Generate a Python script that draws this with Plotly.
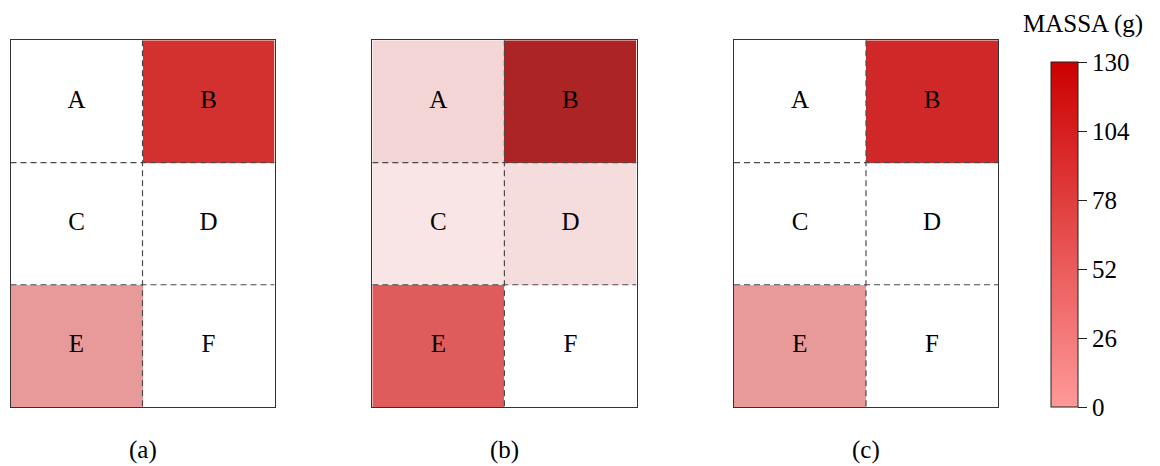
import plotly.graph_objects as go

# ---------------- data ----------------
cells = ["A", "B", "C", "D", "E", "F"]          # laid out 2 columns x 3 rows
panels = ["(a)", "(b)", "(c)"]
# mass (g) per cell; None = empty (white) cell
mass_a = [None, 95, None, None, 45, None]
mass_b = [16, 125, 8, 12, 70, None]
mass_c = [None, 100, None, None, 45, None]
cbar_ticks = [0, 26, 52, 78, 104, 130]
cbar_title = "MASSA (g)"

# ---------------- styles ----------------
FONT = "Liberation Serif, DejaVu Serif, serif"
FS = 25
cell_scale = [
    [0.0, "#fdf3f3"], [8 / 130, "#f9e5e5"], [12 / 130, "#f5dddd"], [16 / 130, "#f3d5d5"],
    [45 / 130, "#e89a9a"], [70 / 130, "#df5c5c"], [95 / 130, "#d33030"],
    [100 / 130, "#d02828"], [125 / 130, "#ad2424"], [1.0, "#a82020"],
]
bar_scale = [[0.0, "#ff9999"], [1.0, "#cc0000"]]

W, H = 1160, 466
OFF = 8  # page body margin in the browser
x_left = [10.5 - OFF, 372.3 - OFF, 734.0 - OFF]
x_right = [274.5 - OFF, 636.5 - OFF, 998.0 - OFF]
y_top, y_bot = 40.3 - OFF, 407.0 - OFF

fig = go.Figure()

def grid(vals):
    return [vals[0:2], vals[2:4], vals[4:6]]

col_idx = [i % 2 for i in range(6)]
row_idx = [i // 2 for i in range(6)]

for k, vals in enumerate([mass_a, mass_b, mass_c]):
    xa = "x" if k == 0 else f"x{k+1}"
    ya = "y" if k == 0 else f"y{k+1}"
    fig.add_trace(go.Heatmap(
        z=grid(vals), x=[0, 1], y=[0, 1, 2], coloraxis="coloraxis",
        xaxis=xa, yaxis=ya, hoverongaps=False, xgap=0, ygap=0,
    ))
    fig.add_trace(go.Scatter(
        x=col_idx, y=row_idx, text=cells, mode="text",
        textfont=dict(family=FONT, size=FS, color="black"),
        xaxis=xa, yaxis=ya, showlegend=False, hoverinfo="skip",
    ))

# dummy trace carrying the displayed colour bar
fig.add_trace(go.Scatter(
    x=[0, 0], y=[0, 0], mode="markers", xaxis="x", yaxis="y",
    marker=dict(color=[cbar_ticks[0], cbar_ticks[-1]], coloraxis="coloraxis2", size=0.001, opacity=0),
    showlegend=False, hoverinfo="skip",
))

cb_top, cb_bot = 62 - OFF, 407.3 - OFF
layout = dict(
    width=W, height=H, margin=dict(l=0, r=0, t=0, b=0),
    paper_bgcolor="white", plot_bgcolor="white", showlegend=False,
    coloraxis=dict(colorscale=cell_scale, cmin=0, cmax=130, showscale=False),
    coloraxis2=dict(
        colorscale=bar_scale, cmin=cbar_ticks[0], cmax=cbar_ticks[-1], showscale=True,
        colorbar=dict(
            x=(1050.7 - OFF) / W, xanchor="left", xpad=0, ypad=0,
            y=1 - cb_bot / H, yanchor="bottom", len=(cb_bot - cb_top) / H, lenmode="fraction",
            thickness=26.5, outlinewidth=1, outlinecolor="#222",
            tickvals=cbar_ticks, ticktext=[str(t) for t in cbar_ticks],
            ticks="outside", ticklen=9, tickwidth=1, tickcolor="#222",
            tickfont=dict(family=FONT, size=FS, color="black"),
        ),
    ),
    font=dict(family=FONT, size=FS, color="black"),
    annotations=[], shapes=[],
)

for k in range(3):
    sfx = "" if k == 0 else str(k + 1)
    layout["xaxis" + sfx] = dict(
        domain=[x_left[k] / W, x_right[k] / W], range=[-0.5, 1.5],
        showticklabels=False, ticks="", showgrid=False,
        zeroline=False, showline=True, mirror=True, linecolor="#333", linewidth=1.2,
        anchor="y" + sfx, fixedrange=True,
    )
    layout["yaxis" + sfx] = dict(
        domain=[1 - y_bot / H, 1 - y_top / H], range=[2.5, -0.5],
        showticklabels=False, ticks="", showgrid=False,
        zeroline=False, showline=True, mirror=True, linecolor="#333", linewidth=1.2,
        anchor="x" + sfx, fixedrange=True,
    )
    xr, yr = "x" + sfx, "y" + sfx
    dash_line = dict(color="#4a4a4a", width=1.2, dash="6px,4px")
    layout["shapes"].append(dict(type="line", xref=xr, yref=yr, x0=0.5, x1=0.5, y0=-0.5, y1=2.5,
                                 line=dash_line, layer="above"))
    for yy in (0.5, 1.5):
        layout["shapes"].append(dict(type="line", xref=xr, yref=yr, x0=-0.5, x1=1.5, y0=yy, y1=yy,
                                     line=dash_line, layer="above"))
    layout["annotations"].append(dict(
        text=panels[k], xref="paper", yref="paper",
        x=(x_left[k] + x_right[k]) / 2 / W, y=1 - (450 - OFF) / H,
        xanchor="center", yanchor="middle", showarrow=False,
        font=dict(family=FONT, size=FS, color="black"),
    ))

layout["annotations"].append(dict(
    text=cbar_title, xref="paper", yref="paper",
    x=(1083 - OFF) / W, y=1 - (24 - OFF) / H, xanchor="center", yanchor="middle", showarrow=False,
    font=dict(family=FONT, size=FS, color="black"),
))

fig.update_layout(**layout)
fig.write_html("out.html")
